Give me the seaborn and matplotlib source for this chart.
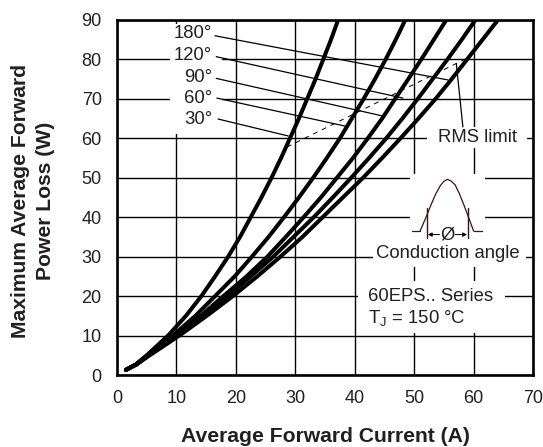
import matplotlib
matplotlib.use("Agg")
import matplotlib.pyplot as plt
from matplotlib.patches import Rectangle
import pandas as pd
import seaborn as sns

INK = "#231f20"
PULSE = "#3a1410"

angles = ["30", "60", "90", "120", "180"]
power = [1.3, 2.7, 5, 10, 15, 20, 25, 30, 35, 40, 45, 50, 55, 60, 65, 70, 75, 80, 85, 90]
current_30 = [1.5, 3.2, 5.0, 8.6, 11.6, 14.2, 16.5, 18.7, 20.7, 22.5, 24.3, 26.0, 27.6, 29.1, 30.6, 32.0, 33.4, 34.7,
              36.0, 37.2]
current_60 = [1.5, 3.2, 5.1, 9.4, 13.2, 16.5, 19.8, 22.7, 25.5, 28.1, 30.6, 33.0, 35.3, 37.5, 39.5, 41.5, 43.4, 45.2,
              46.9, 48.5]
current_90 = [1.5, 3.3, 5.3, 9.9, 14.1, 17.9, 21.8, 25.3, 28.4, 31.4, 34.3, 37.0, 39.7, 42.2, 44.6, 46.8, 49.0, 51.2,
              53.3, 55.4]
current_120 = [1.5, 3.3, 5.3, 10.1, 14.5, 18.6, 22.5, 26.3, 29.7, 33.1, 36.3, 39.4, 42.4, 45.3, 48.0, 50.6, 53.1, 55.6,
               58.0, 60.3]
current_180 = [1.5, 3.3, 5.5, 10.5, 15.1, 19.5, 23.6, 27.5, 31.2, 34.6, 38.0, 41.4, 44.6, 47.7, 50.7, 53.6, 56.3, 58.9,
               61.5, 64.1]

x_ticks = [0, 10, 20, 30, 40, 50, 60, 70]
y_ticks = [0, 10, 20, 30, 40, 50, 60, 70, 80, 90]

label_y = [86.7, 81.1, 75.5, 70.2, 64.9]
label_text = ["180°", "120°", "90°", "60°", "30°"]
leader_x0 = [16.5, 16.7, 16.7, 16.8, 17.0]
leader_y0 = [86.0, 80.7, 75.2, 70.2, 64.9]
leader_x1 = [55.7, 48.1, 44.6, 38.4, 28.8]
leader_y1 = [74.8, 70.2, 65.7, 63.1, 60.6]

rms_x = [28.6, 58.6]
rms_y = [57.8, 80.1]
rms_leader_x = [57.1, 58.2]
rms_leader_y = [78.9, 62.9]

# x, y, width, height of the white patches that cut the grid
knockouts = [
    (8.9, 61, 8.8, 28),
    (52.2, 57.5, 16.8, 5.5),
    (49.3, 32.5, 12.7, 18.5),
    (43, 27.4, 25.9, 5.1),
    (40.6, 10.7, 24.7, 13.1),
]

pulse_x = [51.0, 52.0, 52.8, 53.6, 54.4, 55.0, 55.6, 56.2, 56.9, 57.6, 58.4, 59.2, 60.0]
pulse_y = [36.5, 40.0, 43.0, 45.8, 48.0, 49.1, 49.6, 49.2, 48.2, 46.0, 43.0, 39.8, 36.5]

frames = []
for name, xs in zip(angles, [current_30, current_60, current_90, current_120, current_180]):
    frames.append(pd.DataFrame({"current": xs, "power": power, "angle": name}))
curves = pd.concat(frames)

sns.set_theme(style="white", rc={"axes.edgecolor": "black", "axes.linewidth": 1.9})
plt.rcParams["font.family"] = ["Liberation Sans", "DejaVu Sans"]
plt.rcParams["mathtext.fontset"] = "custom"
plt.rcParams["mathtext.rm"] = "Liberation Sans"

fig = plt.figure(figsize=(5.43, 4.47), dpi=100, facecolor="w")
ax = fig.add_axes([117 / 543, 1 - 375 / 447, 416 / 543, 355 / 447])

ax.set_axisbelow(True)
ax.grid(True, color="black", linewidth=1.0)
for box in knockouts:
    ax.add_patch(Rectangle(box[:2], box[2], box[3], facecolor="w", edgecolor="none", zorder=1))

sns.lineplot(data=curves, x="current", y="power", hue="angle", palette=["black"] * 5, estimator=None,
             sort=False, linewidth=2.9, legend=False, ax=ax, zorder=3)

for i in range(5):
    ax.plot([leader_x0[i], leader_x1[i]], [leader_y0[i], leader_y1[i]], color="black", lw=0.9, zorder=2)
    ax.text(16.0, label_y[i], label_text[i], ha="right", va="center", fontsize=13.3, color=INK)

ax.plot(rms_x, rms_y, color="black", lw=0.7, dashes=(5, 5), zorder=2)
ax.plot(rms_leader_x, rms_leader_y, color="black", lw=0.9, zorder=2)
ax.text(60.6, 60.2, "RMS limit", ha="center", va="center", fontsize=13.3, color=INK)

# conduction angle sketch
ax.plot(pulse_x, pulse_y, color=PULSE, lw=0.9, zorder=2)
ax.plot([49.7, 51.0], [36.5, 36.5], color=PULSE, lw=0.9)
ax.plot([60.0, 61.4], [36.5, 36.5], color=PULSE, lw=0.9)
ax.plot([52.2, 52.2], [34.7, 42.3], color=PULSE, lw=1.0)
ax.plot([59.0, 59.0], [34.7, 42.3], color=PULSE, lw=1.0)
ax.annotate("", xy=(52.3, 35.6), xytext=(54.3, 35.6),
            arrowprops=dict(arrowstyle="-|>", color="black", lw=0.7, mutation_scale=6, shrinkA=0, shrinkB=0))
ax.annotate("", xy=(58.9, 35.6), xytext=(56.9, 35.6),
            arrowprops=dict(arrowstyle="-|>", color="black", lw=0.7, mutation_scale=6, shrinkA=0, shrinkB=0))
ax.text(55.6, 35.6, "Ø", ha="center", va="center", fontsize=13.3, color=INK)
ax.text(55.6, 30.9, "Conduction angle", ha="center", va="center", fontsize=13.3, color=INK)
ax.text(42.2, 20.0, "60EPS.. Series", ha="left", va="center", fontsize=13.3, color=INK)
ax.text(42.2, 14.5, r"T$_{\mathrm{J}}$ = 150 °C", ha="left", va="center", fontsize=13.3, color=INK)

ax.set_xlim(0, 70)
ax.set_ylim(0, 90)
ax.set_xticks(x_ticks)
ax.set_yticks(y_ticks)
ax.tick_params(axis="both", length=0, labelsize=13, labelcolor=INK, pad=11)
ax.set_xlabel("Average Forward Current (A)", fontsize=15.2, fontweight="bold", color=INK, labelpad=14.5)
ax.set_ylabel("Maximum Average Forward\nPower Loss (W)", fontsize=15.2, fontweight="bold", color=INK, labelpad=19,
              linespacing=1.4, y=0.49)

fig.savefig("out.png", dpi=100)
